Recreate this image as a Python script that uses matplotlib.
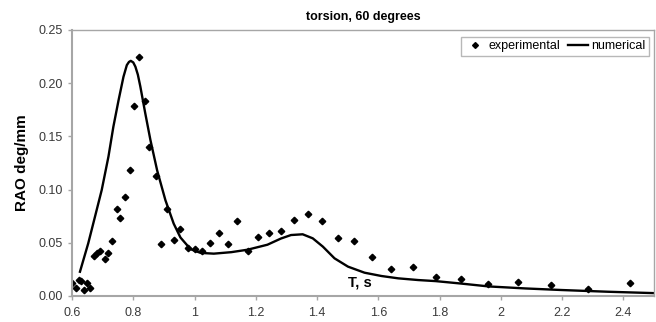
import matplotlib
matplotlib.use("Agg")
import matplotlib.pyplot as plt

plt.rcParams['font.family'] = ['Liberation Sans', 'DejaVu Sans']

# experimental data (T, RAO)
exp_T = [0.600, 0.613, 0.622, 0.630, 0.640, 0.650, 0.660, 0.672, 0.682, 0.693,
         0.707, 0.719, 0.732, 0.747, 0.758, 0.774, 0.788, 0.803, 0.820, 0.837,
         0.853, 0.873, 0.891, 0.910, 0.932, 0.952, 0.978, 1.001, 1.026, 1.052,
         1.081, 1.110, 1.140, 1.173, 1.208, 1.244, 1.282, 1.326, 1.369, 1.416,
         1.468, 1.520, 1.580, 1.643, 1.714, 1.787, 1.869, 1.957, 2.056, 2.165,
         2.285, 2.421]
exp_RAO = [0.0125, 0.0072, 0.0147, 0.0138, 0.0056, 0.0119, 0.0078, 0.0376, 0.0407, 0.0426,
           0.0345, 0.0407, 0.0514, 0.0820, 0.0730, 0.0927, 0.1180, 0.1789, 0.2243, 0.1836,
           0.1403, 0.1130, 0.0486, 0.0815, 0.0526, 0.0627, 0.0454, 0.0439, 0.0425, 0.0495,
           0.0589, 0.0486, 0.0707, 0.0423, 0.0557, 0.0595, 0.0614, 0.0711, 0.0768, 0.0705,
           0.0548, 0.0517, 0.0364, 0.0251, 0.0270, 0.0176, 0.0160, 0.0113, 0.0135, 0.0103,
           0.0066, 0.0119]

# numerical curve
num_T = [0.626, 0.653, 0.675, 0.697, 0.719, 0.735, 0.752, 0.768, 0.779, 0.786,
         0.792, 0.800, 0.807, 0.815, 0.823, 0.839, 0.856, 0.878, 0.905, 0.932,
         0.954, 0.987, 1.020, 1.063, 1.120, 1.173, 1.238, 1.282, 1.315, 1.353,
         1.386, 1.419, 1.457, 1.501, 1.555, 1.610, 1.665, 1.730, 1.787, 1.870,
         1.960, 2.080, 2.200, 2.350, 2.500]
num_RAO = [0.0228, 0.0495, 0.0745, 0.0996, 0.1310, 0.1590, 0.1840, 0.2060, 0.2170, 0.2200,
           0.2210, 0.2195, 0.2155, 0.2080, 0.1970, 0.1720, 0.1466, 0.1180, 0.0900, 0.0680,
           0.0550, 0.0440, 0.0405, 0.0398, 0.0412, 0.0435, 0.0482, 0.0540, 0.0573, 0.0580,
           0.0542, 0.0464, 0.0354, 0.0276, 0.0219, 0.0188, 0.0166, 0.0150, 0.0140, 0.0117,
           0.0090, 0.0071, 0.0056, 0.0040, 0.0027]

x_ticks = [0.6, 0.8, 1.0, 1.2, 1.4, 1.6, 1.8, 2.0, 2.2, 2.4]
x_ticklabels = ["0.6", "0.8", "1", "1.2", "1.4", "1.6", "1.8", "2", "2.2", "2.4"]
y_ticks = [0.00, 0.05, 0.10, 0.15, 0.20, 0.25]
y_ticklabels = ["0.00", "0.05", "0.10", "0.15", "0.20", "0.25"]

fig = plt.figure(figsize=(6.56, 3.22), dpi=100)
ax = fig.add_axes([72/656, 1-296/322, (654-72)/656, (296-30)/322])

ax.plot(exp_T, exp_RAO, linestyle='none', marker='D', markersize=3.3,
        color='black', label='experimental')
ax.plot(num_T, num_RAO, color='black', linewidth=1.7, label='numerical',
        solid_joinstyle='round')

ax.set_xlim(0.6, 2.5)
ax.set_ylim(0.0, 0.25)
ax.set_xticks(x_ticks)
ax.set_xticklabels(x_ticklabels)
ax.set_yticks(y_ticks)
ax.set_yticklabels(y_ticklabels)

gray = '#a6a6a6'
for s in ax.spines.values():
    s.set_color(gray)
    s.set_linewidth(1.0)
ax.spines['left'].set_linewidth(1.5)
ax.spines['bottom'].set_linewidth(1.5)
ax.tick_params(axis='both', colors=gray, labelcolor='#3a3a3a', labelsize=9,
               length=3, width=1)
ax.tick_params(axis='x', pad=5)

ax.set_ylabel('RAO deg/mm', fontsize=11, fontweight='bold', labelpad=7)
ax.set_title('torsion, 60 degrees', fontsize=9, fontweight='bold', pad=7)
ax.text(1.54, 0.0125, 'T, s', fontsize=10.5, fontweight='bold',
        ha='center', va='center')

leg = ax.legend(loc='upper right', bbox_to_anchor=(0.992, 0.975), ncol=2,
                frameon=True, fancybox=False, fontsize=9, borderaxespad=0,
                handlelength=1.6, handletextpad=0.3, columnspacing=0.6,
                borderpad=0.3, markerscale=0.9)
leg.get_frame().set_edgecolor(gray)
leg.get_frame().set_linewidth(1.0)

fig.savefig('out.png', dpi=100)
